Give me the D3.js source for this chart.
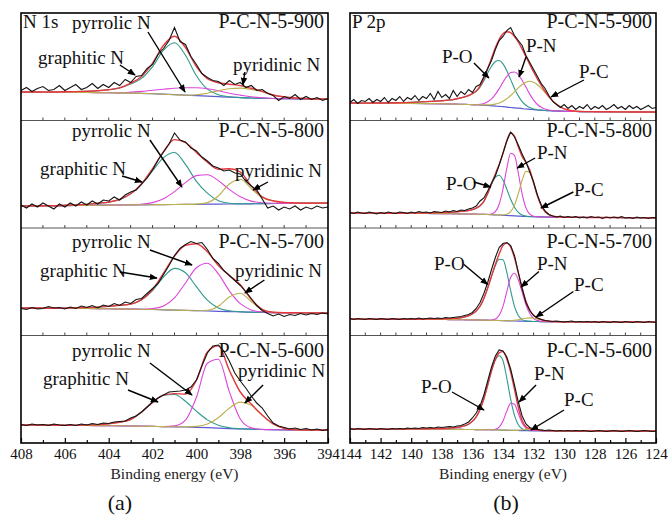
<!DOCTYPE html>
<html><head><meta charset="utf-8">
<script src="https://cdn.jsdelivr.net/npm/d3@7"></script>
<style>
html,body{margin:0;padding:0;background:#fff;}
svg{display:block;font-family:"Liberation Serif","Times New Roman",serif;}
svg text{font-family:"Liberation Serif","Times New Roman",serif !important;}
</style></head>
<body><svg id="c" width="668" height="517"></svg>
<script>
// ---------- energy grids (eV) ----------
const nGrid = d3.range(408, 393.9, -0.5);            // fitted curves, N 1s
const nRawE = d3.range(408, 393.9, -0.25);           // measured points, N 1s
const pGrid = [...d3.range(144, 138.5, -1), ...d3.range(138, 129.1, -0.25), ...d3.range(129, 123.9, -1)];
const pRawE = d3.range(144, 123.9, -0.25);           // measured points, P 2p

const samples = ["P-C-N-5-900", "P-C-N-5-800", "P-C-N-5-700", "P-C-N-5-600"];
const nTicks = d3.range(408, 393, -1);
const pTicks = d3.range(144, 123, -1);

// ---------- N 1s (a.u.) ----------
const n900Base = [28.5,28.5,28.4,28.3,28.2,28.1,28,27.9,27.8,27.6,27.4,27.1,26.8,26.3,25.8,25.3,24.8,24.3,23.8,23.3,22.9,22.5,22.2,22,21.8,21.7,21.6,21.5,21.5];
const n900Graphitic = [0,0,0,0.2,0.5,0.8,1.2,1.8,3,5,9,15,27,44,52,40,20,7,2,0.5,0,0,0,0,0,0,0,0,0];
const n900Pyrrolic = [0,0,0,0,0,0,0,0,0,0,1,2,3.5,5,6.5,7.5,8,7.5,6,4,2.5,1.2,0.5,0,0,0,0,0,0];
const n900Pyridinic = [0,0,0,0,0,0,0,0,0,0,0,0,0,0,0,0,1,3,6,8.5,9.5,8.5,6.5,3.5,1.8,0.8,0.3,0,0];
const n900Raw = [30,33,29,32,34,30,31,35, 30,33,36,31,33,37,32,36, 33,38,35,41,38,44,45,52, 56,66,72,80,93,79,76,64, 56,47,43,40,39,35,40,36, 38,33,35,30,31,27,25,20, 24,22,26,21,24,21,23,20, 22];

const n800Base = [22,22.1,22.2,22.3,22.4,22.5,22.6,22.8,22.9,23,23.1,23.2,23.3,23.4,23.5,23.6,23.7,23.8,23.9,24,24.1,24.2,24.4,24.5,24.6,24.7,24.8,24.9,25];
const n800Graphitic = [0,0,0,0,0.3,0.6,1,2,3,5.5,11,20.5,34,47,52,40,23,11,3.3,0.7,0.1,0,0,0,0,0,0,0,0];
const n800Pyrrolic = [0,0,0,0,0,0,0,0,0,0,0.1,0.6,2.1,5.9,12.9,21.8,28.7,29.4,23.5,14.6,7.1,2.7,0.8,0.2,0,0,0,0,0];
const n800Pyridinic = [0,0,0,0,0,0,0,0,0,0,0,0,0,0,0,0,0.2,1.6,8.1,20,24.7,15.2,6,2.5,1,0.4,0,0,0];
const n800Raw = [23,20,24,21,25,22,19,24, 21,25,22,26,23,27,24,28, 27,31,28,33,36,38,44,50, 58,68,76,84,95,88,86,80, 77,71,67,62,60,57,58,55, 54,47,42,38,29,20,22,18, 21,19,22,18,21,19,22,20, 21];

const n700Base = [27.5,27.5,27.4,27.3,27.2,27.1,27,26.9,26.8,26.6,26.4,26.2,26,25.7,25.4,25.1,24.8,24.5,24.2,23.9,23.6,23.3,23.1,22.9,22.8,22.7,22.6,22.5,22.5];
const n700Graphitic = [0,0,0,0,0.2,0.5,1,1.5,2.3,3.6,5,9.5,19,32.8,41.7,37.6,24,10.8,3.4,0.8,0.2,0,0,0,0,0,0,0,0];
const n700Pyrrolic = [0,0,0,0,0,0,0,0,0,0,0,0.1,0.9,3.9,12.3,27.4,43,47.7,37.4,20.8,8.2,2.3,0.4,0,0,0,0,0,0];
const n700Pyridinic = [0,0,0,0,0,0,0,0,0,0,0,0,0,0,0,0,0,0.7,5,14.6,18.7,10.5,2.6,0.3,0,0,0,0,0];
const n700Raw = [27,26,28,26.5,27,29,27.5,28, 26.5,28.5,27,29.5,28,30,27.5,30.5, 29,32,30,33.5,32,36,37,42, 47,52,61,70,80,87,91,94, 92,93,86,77,72,65,60,55, 50,44,37,30,25,22,19.5,21.5, 19,21,20,22,20.5,22,21,22.5, 21.5];

const n600Base = [18,18,17.9,17.8,17.7,17.6,17.5,17.4,17.3,17.2,17,16.8,16.6,16.4,16.2,16,15.7,15.3,14.8,14.4,14.1,13.8,13.5,13.3,13.2,13.1,13,13,13];
const n600Graphitic = [0,0,0,0,0,0,0.5,1,2,3.5,6.5,14.2,24,31.5,32.3,25.8,16.1,7.8,2.9,0.9,0.2,0,0,0,0,0,0,0,0];
const n600Pyrrolic = [0,0,0,0,0,0,0,0,0,0,0,0,0,0,0.9,6.9,30,64.4,69,37,9.9,1.3,0.1,0,0,0,0,0,0];
const n600Pyridinic = [0,0,0,0,0,0,0,0,0,0,0,0,0,0,0,0.2,0.9,3.6,10.5,20.4,26.8,23.8,14.3,5.8,1.6,0.3,0,0,0];
const n600Raw = [18.5,17.5,19,18,18.5,17.5,19,18, 17.5,18.5,17.5,19,18,19.5,18.5,20, 19.5,21,21.5,22,25,27,31,36, 41,45,48,51,51.5,52,53,56, 63,77,90,97,98,92,82,70, 62,55,47,40,35,27,20,17, 15.5,14,15,13.5,14.5,13,14,12.5, 13.5];

// ---------- P 2p (a.u.) ----------
const p900Base = [17.5,17.4,17.3,17.2,17.1,16.9, 16.7,16.6,16.5,16.4,16.3,16.2,16.1,16, 15.8,15.6,15.4,15.2,15,14.7,14.4,14.1, 13.8,13.4,13,12.6,12.3,11.9,11.5,11.2, 10.8,10.5,10.3,10,9.8,9.6,9.5,9.4, 9.2,9.1,9,9, 8.9,8.8,8.7,8.6,8.5,8.5];
const p900PO = [0,0,0.2,0.5,1,2, 3,3.5,4,4.5,5.5,6.5,7.5,9, 11,13.5,18,24.5,32.5,39.5,44.6,45.9, 42.9,36.3,27.9,19.4,12.3,7,3.7,1.7, 0.7,0.3,0.1,0,0,0,0,0, 0,0,0,0, 0,0,0,0,0,0];
const p900PN = [0,0,0,0,0,0, 0,0,0,0,0,0,0,0, 0.1,0.3,0.8,1.8,3.8,7,11.7,17.8, 24.6,30.7,34.9,35.9,33.6,28.4,21.9,15.2, 9.6,5.5,2.9,1.4,0.6,0.2,0.1,0, 0,0,0,0, 0,0,0,0,0,0];
const p900PC = [0,0,0,0,0,0, 0,0,0,0,0,0,0,0, 0,0.1,0.2,0.4,0.6,1.1,2,3.4, 5.5,8.4,12,16.1,20.3,24.1,26.8,28, 27.4,25.3,21.9,17.8,13.6,9.8,6.6,4.2, 2.5,1.4,0.7,0.4, 0.2,0,0,0,0,0];
const p900Raw = [18,21,17,20,19,22,18,21, 19,23,18,22,20,24,19,23, 21,25,20,24,22,27,21,29, 23,26,22,30,24,29,26,31, 28,34,36,44,52,60,71,80, 84,90,93,85,80,75,65,58, 51,44,37,32,25,19,16,13, 16,12,15,11,14,12,16,11, 14,12,15,11,13,16,12,14, 11,15,12,14,11,13,15,12, 13];

const p800Base = [15,14.9,14.8,14.7,14.6,14.5, 14.4,14.3,14.3,14.2,14.2,14.1,14,14, 13.9,13.8,13.7,13.6,13.5,13.3,13.1,12.9, 12.7,12.5,12.3,12.1,11.9,11.7,11.5,11.4, 11.3,11.2,11.1,11,10.9,10.9,10.8,10.8, 10.7,10.7,10.6,10.6, 10.6,10.5,10.5,10.4,10.4,10.3];
const p800PO = [0,0,0,0,0.3,0.5, 1,1.2,1.5,1.7,2,2.5,3,3.5, 4.5,6,8.5,13,21,30.2,37.8,39.9, 35.3,26.3,16.4,8.6,3.8,1.4,0.4,0.1, 0,0,0,0,0,0,0,0, 0,0,0,0, 0,0,0,0,0,0];
const p800PN = [0,0,0,0,0,0, 0,0,0,0,0,0,0,0, 0,0,0,0,0.1,0.7,3.2,10.8, 26.3,47.3,62.4,60.5,43.1,22.5,8.6,2.4, 0.5,0.1,0,0,0,0,0,0, 0,0,0,0, 0,0,0,0,0,0];
const p800PC = [0,0,0,0,0,0, 0,0,0,0,0,0,0,0, 0,0,0,0,0,0,0,0, 0.3,1.2,4.1,10.8,22.4,36,45.1,44, 33.4,20.8,11.1,5.3,2.4,1,0.5,0.2, 0,0,0,0, 0,0,0,0,0,0];
const p800Raw = [15.5,14.5,16,15,14.5,16,15,14, 15.5,14.5,16,15,14.5,16,15.5,14.5, 16,15,16.5,15.5,16,15,16.5,16, 15.5,17,16,17.5,16.5,18,17.5,19, 20,22,27,30,37,45,52,63, 75,87,96,91,83,74,66,56, 46,33,23,17,13.5,12,11,12, 10.5,11.5,10.5,11.5,10,11,10,11.5, 10.5,11,9.5,11,10,11,10,11.5, 10,10.5,9.5,11,10,10.5,9.5,10.5, 10];

const p700Base = [16.5,16.4,16.3,16.3,16.2,16.1, 16,16,15.9,15.9,15.8,15.8,15.7,15.7, 15.6,15.6,15.5,15.4,15.3,15.2,15.1,15, 14.9,14.7,14.6,14.5,14.4,14.3,14.2,14.1, 14,14,13.9,13.9,13.8,13.8,13.8,13.7, 13.7,13.7,13.6,13.6, 13.6,13.5,13.5,13.5,13.4,13.4];
const p700PO = [0,0,0,0,0,0.3, 0.5,0.7,1,1.2,1.5,2,2.9,4, 6,9,13.8,21.6,32.2,44,54.7,61.3, 60.8,48.5,30.2,14.6,5.6,1.6,0.4,0.1, 0,0,0,0,0,0,0,0, 0,0,0,0, 0,0,0,0,0,0];
const p700PN = [0,0,0,0,0,0, 0,0,0,0,0,0,0,0, 0,0,0,0,0,0.3,1.4,5.2, 14.3,29.2,43.5,47.8,41.4,29.2,16.6,7.8, 2.9,0.9,0.3,0,0,0,0,0, 0,0,0,0, 0,0,0,0,0,0];
const p700PC = [0,0,0,0,0,0, 0,0,0,0,0,0,0,0, 0,0,0,0,0,0,0,0, 0,0,0.3,0.8,1.4,2.3,3.1,3.5, 3.3,2.6,1.8,1,0.5,0.2,0.1,0, 0,0,0,0, 0,0,0,0,0,0];
const p700Raw = [17,16,17,16.5,16,17,16.5,16, 17,16.5,16,17,16.5,16,17,16.5, 17,16.5,17.5,16.5,17,17.5,17,17.5, 17,18,17.5,18,18.5,19,20,21, 23,27,33,42,53,66,78,88, 92,93,90,80,63,47,33,25, 20,17.5,16,15,14.5,14,14.5,14, 13.5,14,14.5,13.5,14,13.5,14,13.5, 14,13,14,13.5,13,14,13.5,13, 14,13.5,13,14,13.5,13,14,13.5, 13];

const p600Base = [14,14,13.9,13.9,13.8,13.8, 13.7,13.7,13.7,13.6,13.6,13.6,13.5,13.5, 13.5,13.4,13.4,13.3,13.3,13.2,13.1,13, 12.9,12.8,12.7,12.6,12.5,12.4,12.4,12.3, 12.3,12.3,12.2,12.2,12.2,12.2,12.1,12.1, 12.1,12.1,12.1,12, 12,12,12,12,12,12];
const p600PO = [0,0,0,0,0.3,0.5, 0.8,1,1.3,1.6,2,2.7,3.7,5.3, 8.2,12.8,20.1,30.9,44.7,58.9,69.8,74.3, 69.4,51.9,31.1,15,5.7,1.8,0.4,0.1, 0,0,0,0,0,0,0,0, 0,0,0,0, 0,0,0,0,0,0];
const p600PN = [0,0,0,0,0,0, 0,0,0,0,0,0,0,0, 0,0,0,0,0,0.1,0.6,2.9, 9.1,19.1,27.1,26.1,17,7.5,2.2,0.4, 0.1,0,0,0,0,0,0,0, 0,0,0,0, 0,0,0,0,0,0];
const p600PC = [0,0,0,0,0,0, 0,0,0,0,0,0,0,0, 0,0,0,0,0,0,0,0, 0,0,0,0,0.4,0.8,1.3,1.5, 1.3,0.9,0.5,0.2,0,0,0,0, 0,0,0,0, 0,0,0,0,0,0];
const p600Raw = [14.5,13.5,14.5,14,13.5,14.5,14,13.5, 14.5,14,13.5,14.5,14,14.5,14,15, 14.5,15,14.5,15.5,15,15.5,15,16, 15.5,16,16.5,16,17,17.5,19,21, 25,30,37,48,62,76,87,93, 92,86,74,58,41,27,19,15.5, 14,13.5,13,12.5,13,12.5,12,12.5, 12,12.5,12,12.5,12,12.5,12,11.5, 12,12.5,12,11.5,12,12.5,12,11.5, 12,12.5,12,11.5,12,12.5,12,11.5, 12];

// ---------- annotations (eV, a.u.) ----------
const nNotes = [
  {p:0,t:"pyrrolic N",at:[405.67,91.5],from:[402.21,88.5],to:[400.52,28.5]},
  {p:0,t:"graphitic N",at:[407.22,56.5],from:[403.49,55.5],to:[402.8,45.5]},
  {p:0,t:"pyridinic N",at:[398.33,49.5],from:[397.79,48.5],to:[397.88,35.5]},
  {p:1,t:"pyrrolic N",at:[405.67,91],from:[402.12,88],to:[400.66,41]},
  {p:1,t:"graphitic N",at:[407.13,53],from:[403.39,52],to:[402.48,46]},
  {p:1,t:"pyridinic N",at:[398.24,51],from:[396.74,46],to:[397.42,38]},
  {p:2,t:"pyrrolic N",at:[405.67,87.5],from:[402.12,85.5],to:[400.2,70.5]},
  {p:2,t:"graphitic N",at:[407.13,58.5],from:[403.49,63.5],to:[401.8,57.5]},
  {p:2,t:"pyridinic N",at:[398.24,58.5],from:[396.9,55.5],to:[397.79,42.5]},
  {p:3,t:"pyrrolic N",at:[405.67,86],from:[402.12,80],to:[400.2,48]},
  {p:3,t:"graphitic N",at:[407,58],from:[403.12,53],to:[401.75,41]},
  {p:3,t:"pyridinic N",at:[398.1,66],from:[396.96,58],to:[397.79,40]}
];
const pNotes = [
  {p:0,t:"P-O",at:[137.99,57.5],from:[135.9,57.5],to:[134.92,42.5]},
  {p:0,t:"P-N",at:[132.5,68.5],from:[132.5,63.5],to:[132.95,43.5]},
  {p:0,t:"P-C",at:[129.03,42.5],from:[128.71,40.5],to:[130.86,23.5]},
  {p:1,t:"P-O",at:[137.73,38],from:[135.9,46],to:[134.8,41]},
  {p:1,t:"P-N",at:[131.78,69],from:[131.9,70],to:[133.08,60]},
  {p:1,t:"P-C",at:[129.36,32],from:[129.4,36],to:[131.52,20]},
  {p:2,t:"P-O",at:[138.51,65.5],from:[136.55,71],to:[135.0,51]},
  {p:2,t:"P-N",at:[131.78,65.5],from:[131.65,64],to:[132.82,48.5]},
  {p:2,t:"P-C",at:[129.36,44.5],from:[129.4,44],to:[131.84,18.5]},
  {p:3,t:"P-O",at:[139.36,50],from:[137.33,51],to:[135.24,33]},
  {p:3,t:"P-N",at:[131.97,63],from:[131.84,58],to:[132.95,41]},
  {p:3,t:"P-C",at:[130.01,37],from:[130.01,33],to:[132.17,13]}
];

// ---------- drawing ----------
const panelsN = [
  {base:n900Base, comps:[n900Graphitic,n900Pyrrolic,n900Pyridinic], raw:n900Raw},
  {base:n800Base, comps:[n800Graphitic,n800Pyrrolic,n800Pyridinic], raw:n800Raw},
  {base:n700Base, comps:[n700Graphitic,n700Pyrrolic,n700Pyridinic], raw:n700Raw},
  {base:n600Base, comps:[n600Graphitic,n600Pyrrolic,n600Pyridinic], raw:n600Raw}
];
const panelsP = [
  {base:p900Base, comps:[p900PO,p900PN,p900PC], raw:p900Raw},
  {base:p800Base, comps:[p800PO,p800PN,p800PC], raw:p800Raw},
  {base:p700Base, comps:[p700PO,p700PN,p700PC], raw:p700Raw},
  {base:p600Base, comps:[p600PO,p600PN,p600PC], raw:p600Raw}
];

const svg = d3.select("#c");
svg.append("rect").attr("width",668).attr("height",517).attr("fill","#fff");
const defs = svg.append("defs");
defs.append("marker").attr("id","ah").attr("viewBox","0 0 10 10").attr("refX",9).attr("refY",5)
  .attr("markerWidth",8).attr("markerHeight",8).attr("markerUnits","userSpaceOnUse").attr("orient","auto")
  .append("path").attr("d","M0,1 L10,5 L0,9 Z").attr("fill","#000");

const TOP = 13, PH = 107.5, BOTTOM = TOP + 4*PH;
const xN = d3.scaleLinear().domain([408,394]).range([21,328]);
const xP = d3.scaleLinear().domain([144,124]).range([350,656]);
const yFor = i => d3.scaleLinear().domain([0,107.5]).range([TOP+PH*(i+1), TOP+PH*i]);
const compColors = ["#2f9b8b","#dc46dc","#bcb14e"];
const FONT = '"Liberation Serif","Times New Roman",serif';
const sampleY = [92.5, 91, 88, 86.5];

function drawSide(x, grid, rawE, panels, notes, title, ticks, sideLabel, labelX) {
  const g = svg.append("g");
  panels.forEach((p,i)=>{
    const y = yFor(i);
    const line = d3.line().x(d=>x(d[0])).y(d=>y(d[1])).curve(d3.curveMonotoneX);
    g.append("path").attr("d", line(grid.map((e,k)=>[e,p.base[k]])))
      .attr("fill","none").attr("stroke","#5b5bd3").attr("stroke-width",1.2);
    p.comps.forEach((c,j)=>{
      g.append("path").attr("d", line(grid.map((e,k)=>[e,p.base[k]+c[k]])))
        .attr("fill","none").attr("stroke",compColors[j]).attr("stroke-width",1.1);
    });
    const env = grid.map((e,k)=>[e, p.base[k] + d3.sum(p.comps, c=>c[k])]);
    g.append("path").attr("d", line(env)).attr("fill","none").attr("stroke","#e5373d").attr("stroke-width",1.4);
    const rawLine = d3.line().x(d=>x(d[0])).y(d=>y(d[1]));
    g.append("path").attr("d", rawLine(rawE.map((e,k)=>[e,p.raw[k]])))
      .attr("fill","none").attr("stroke","#151515").attr("stroke-width",1.1);
    g.append("text").attr("x", x(x.domain()[1]) - 4).attr("y", y(sampleY[i]))
      .attr("text-anchor","end").attr("font-size",20).style("font-family",FONT).attr("fill","#111").text(samples[i]);
  });
  notes.forEach(n=>{
    const y = yFor(n.p);
    g.append("text").attr("x", x(n.at[0])).attr("y", y(n.at[1])).attr("font-size",19).style("font-family",FONT)
      .attr("fill","#111").text(n.t);
    g.append("line").attr("x1", x(n.from[0])).attr("y1", y(n.from[1])).attr("x2", x(n.to[0])).attr("y2", y(n.to[1]))
      .attr("stroke","#000").attr("stroke-width",1.4).attr("marker-end","url(#ah)");
  });
  g.append("text").attr("x", x.range()[0] + 2).attr("y", yFor(0)(92.5)).attr("font-size",19).style("font-family",FONT)
    .attr("fill","#111").text(title);
  const x0 = x.range()[0], x1 = x.range()[1];
  for (let i=0;i<3;i++){
    const yy = TOP + PH*(i+1);
    g.append("line").attr("x1",x0).attr("x2",x1).attr("y1",yy).attr("y2",yy).attr("stroke","#555").attr("stroke-width",1);
    g.selectAll(null).data(ticks.slice(1,-1)).join("line")
      .attr("x1",d=>x(d)).attr("x2",d=>x(d)).attr("y1",yy).attr("y2",yy-3).attr("stroke","#444").attr("stroke-width",1);
  }
  const major = ticks.filter(d=>d%2===0), minor = ticks.filter(d=>d%2!==0);
  const ax = g.append("g").attr("transform",`translate(0,${BOTTOM})`)
    .call(d3.axisBottom(x).tickValues(major).tickSizeInner(-5).tickSizeOuter(0).tickPadding(5).tickFormat(d3.format("d")));
  ax.attr("font-family", null).attr("font-size", null);
  ax.select(".domain").remove();
  ax.selectAll("text").attr("font-size",15).style("font-family",FONT).attr("fill","#111");
  ax.selectAll("line").attr("stroke","#000").attr("stroke-width",1.2);
  const mx = g.append("g").attr("transform",`translate(0,${BOTTOM})`)
    .call(d3.axisBottom(x).tickValues(minor).tickSizeInner(-3).tickSizeOuter(0).tickFormat(""));
  mx.select(".domain").remove();
  mx.selectAll("line").attr("stroke","#000").attr("stroke-width",1.2);
  g.append("rect").attr("x",x0).attr("y",TOP).attr("width",x1-x0).attr("height",BOTTOM-TOP)
    .attr("fill","none").attr("stroke","#000").attr("stroke-width",1.6);
  g.append("text").attr("x",(x0+x1)/2).attr("y",479).attr("text-anchor","middle").attr("font-size",15.5)
    .style("font-family",FONT).attr("fill","#222").text("Binding energy (eV)");
  g.append("text").attr("x",labelX).attr("y",510).attr("text-anchor","middle").attr("font-size",22)
    .style("font-family",FONT).attr("fill","#111").text(sideLabel);
}

drawSide(xN, nGrid, nRawE, panelsN, nNotes, "N 1s", nTicks, "(a)", 120);
drawSide(xP, pGrid, pRawE, panelsP, pNotes, "P 2p", pTicks, "(b)", 506);
</script>
</body></html>
